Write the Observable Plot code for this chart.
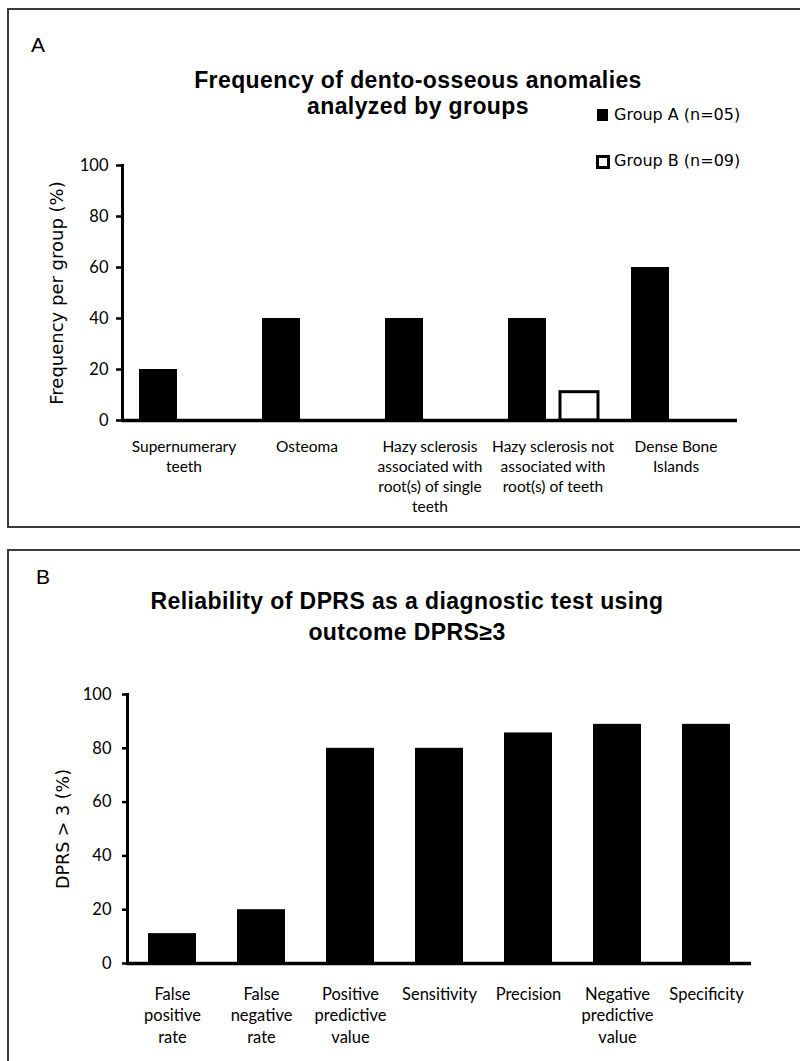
<!DOCTYPE html>
<html><head><meta charset="utf-8">
<script src="https://cdn.jsdelivr.net/npm/d3@7"></script>
<script src="https://cdn.jsdelivr.net/npm/@observablehq/plot@0.6"></script>
<style>
html,body{margin:0;padding:0;background:#fff;}
body{width:800px;height:1061px;overflow:hidden;position:relative;}
.border{position:absolute;border:2px solid #3c3c3c;box-sizing:border-box;}
.plabel{position:absolute;font-family:"Liberation Sans",Arial,sans-serif;font-size:21px;line-height:21px;color:#000;}
.title{position:absolute;font-family:"Liberation Sans",Arial,sans-serif;font-weight:bold;font-size:23px;letter-spacing:0.4px;text-align:center;white-space:nowrap;color:#000;width:600px;}
.legend{position:absolute;font-family:"DejaVu Sans",sans-serif;font-size:16px;line-height:16px;color:#000;white-space:nowrap;}
.sw{position:absolute;box-sizing:border-box;}
svg{position:absolute;left:0;}
</style></head><body>
<script>
// ---------- Data ----------
const categoriesA = ["Supernumerary\nteeth", "Osteoma", "Hazy sclerosis\nassociated with\nroot(s) of single\nteeth", "Hazy sclerosis not\nassociated with\nroot(s) of teeth", "Dense Bone\nIslands"];
const groupNames = ["Group A (n=05)", "Group B (n=09)"];
const groupAValues = [20, 40, 40, 40, 60];
const groupBValues = [0, 0, 0, 11.1, 0];
const yTicksA = [0, 20, 40, 60, 80, 100];
const titleA = ["Frequency of dento-osseous anomalies", "analyzed by groups"];
const yLabelA = "Frequency per group (%)";

const categoriesB = ["False\npositive\nrate", "False\nnegative\nrate", "Positive\npredictive\nvalue", "Sensitivity", "Precision", "Negative\npredictive\nvalue", "Specificity"];
const valuesB = [11.1, 20, 80, 80, 85.7, 88.9, 88.9];
const yTicksB = [0, 20, 40, 60, 80, 100];
const titleB = ["Reliability of DPRS as a diagnostic test using", "outcome DPRS\u22653"];
const yLabelB = "DPRS > 3 (%)";

// ---------- Tables ----------
const rowsA = [];
categoriesA.forEach((c, i) => {
  rowsA.push({cat: c, group: groupNames[0], value: groupAValues[i]});
  rowsA.push({cat: c, group: groupNames[1], value: groupBValues[i]});
});
const rowsB = categoriesB.map((c, i) => ({cat: c, value: valuesB[i]}));

function el(tag, cls, css, text) {
  const e = document.createElement(tag);
  if (cls) e.className = cls;
  Object.assign(e.style, css || {});
  if (text != null) e.textContent = text;
  document.body.appendChild(e);
  return e;
}

const tickFont = "Lato, 'Open Sans', sans-serif";
const labelFont = "'DejaVu Sans', Verdana, sans-serif";

// ---------- Panel A ----------
const plotA = Plot.plot({
  width: 800, height: 520,
  marginTop: 165, marginBottom: 100, marginLeft: 121, marginRight: 63,
  style: {background: "transparent", color: "black", overflow: "visible"},
  fx: {domain: categoriesA, padding: 0, label: null},
  x: {domain: groupNames, paddingInner: 0.27, paddingOuter: 0.31, axis: null},
  y: {domain: [0, 100], axis: null},
  marks: [
    Plot.barY(rowsA, {filter: d => d.group === groupNames[0] && d.value > 0, fx: "cat", x: "group", y: "value", fill: "black"}),
    Plot.barY(rowsA, {filter: d => d.group === groupNames[1] && d.value > 0, fx: "cat", x: "group", y: "value", fill: "white", stroke: "black", strokeWidth: 3}),
    Plot.ruleY([0], {stroke: "black", strokeWidth: 3.5}),
    Plot.frame({anchor: "left", facetAnchor: "left", stroke: "black", strokeWidth: 3}),
    Plot.axisY({ticks: yTicksA, tickSize: 6, tickPadding: 8, tickFormat: d => String(d), label: null, fontSize: 16.5, fontFamily: tickFont, strokeWidth: 2.5}),
    Plot.axisY({ticks: [], tickSize: 0, label: yLabelA, labelAnchor: "center", labelArrow: "none", labelOffset: 72, fontSize: 18, fontFamily: labelFont}),
    Plot.axisFx({anchor: "bottom", label: null, tickSize: 0, tickPadding: 17, fontSize: 15.5, fontFamily: tickFont, lineHeight: 1.29})
  ]
});
plotA.style.top = "0px";
document.body.appendChild(plotA);

el("div", "plabel", {left: "31px", top: "34px"}, "A");
titleA.forEach((t, i) => el("div", "title", {left: (418 - 300) + "px", top: (67 + i * 26) + "px", lineHeight: "26px"}, t));

// legend
[0, 1].forEach(i => {
  const y = i === 0 ? 107 : 153;
  el("div", "sw", i === 0
    ? {left: "597px", top: "109px", width: "11px", height: "12px", background: "black"}
    : {left: "596px", top: "155px", width: "14px", height: "14px", background: "white", border: "3px solid black"});
  el("div", "legend", {left: "614px", top: y + "px"}, groupNames[i]);
});

el("div", "border", {left: "7px", top: "8px", width: "820px", height: "520px"});

// ---------- Panel B ----------
const plotB = Plot.plot({
  width: 800, height: 521,
  marginTop: 154, marginBottom: 98, marginLeft: 127, marginRight: 49,
  style: {background: "transparent", color: "black", overflow: "visible"},
  x: {domain: categoriesB, paddingInner: 0.46, paddingOuter: 0.23, axis: null},
  y: {domain: [0, 100], axis: null},
  marks: [
    Plot.barY(rowsB, {x: "cat", y: "value", fill: "black"}),
    Plot.ruleY([0], {stroke: "black", strokeWidth: 3.5}),
    Plot.frame({anchor: "left", stroke: "black", strokeWidth: 3}),
    Plot.axisY({ticks: yTicksB, tickSize: 5, tickPadding: 11, tickFormat: d => String(d), label: null, fontSize: 16.5, fontFamily: tickFont, strokeWidth: 2.5}),
    Plot.axisY({ticks: [], tickSize: 0, label: yLabelB, labelAnchor: "center", labelArrow: "none", labelOffset: 71, fontSize: 17.5, fontFamily: labelFont}),
    Plot.axisX({anchor: "bottom", label: null, tickSize: 0, tickPadding: 21, fontSize: 16.5, fontFamily: tickFont, lineHeight: 1.3})
  ]
});
plotB.style.top = "540px";
document.body.appendChild(plotB);

el("div", "plabel", {left: "36px", top: "566px"}, "B");
titleB.forEach((t, i) => el("div", "title", {left: (407 - 300) + "px", top: (588 + i * 31) + "px", lineHeight: "26px"}, t));

el("div", "border", {left: "7px", top: "549px", width: "820px", height: "540px"});
</script>
</body></html>
